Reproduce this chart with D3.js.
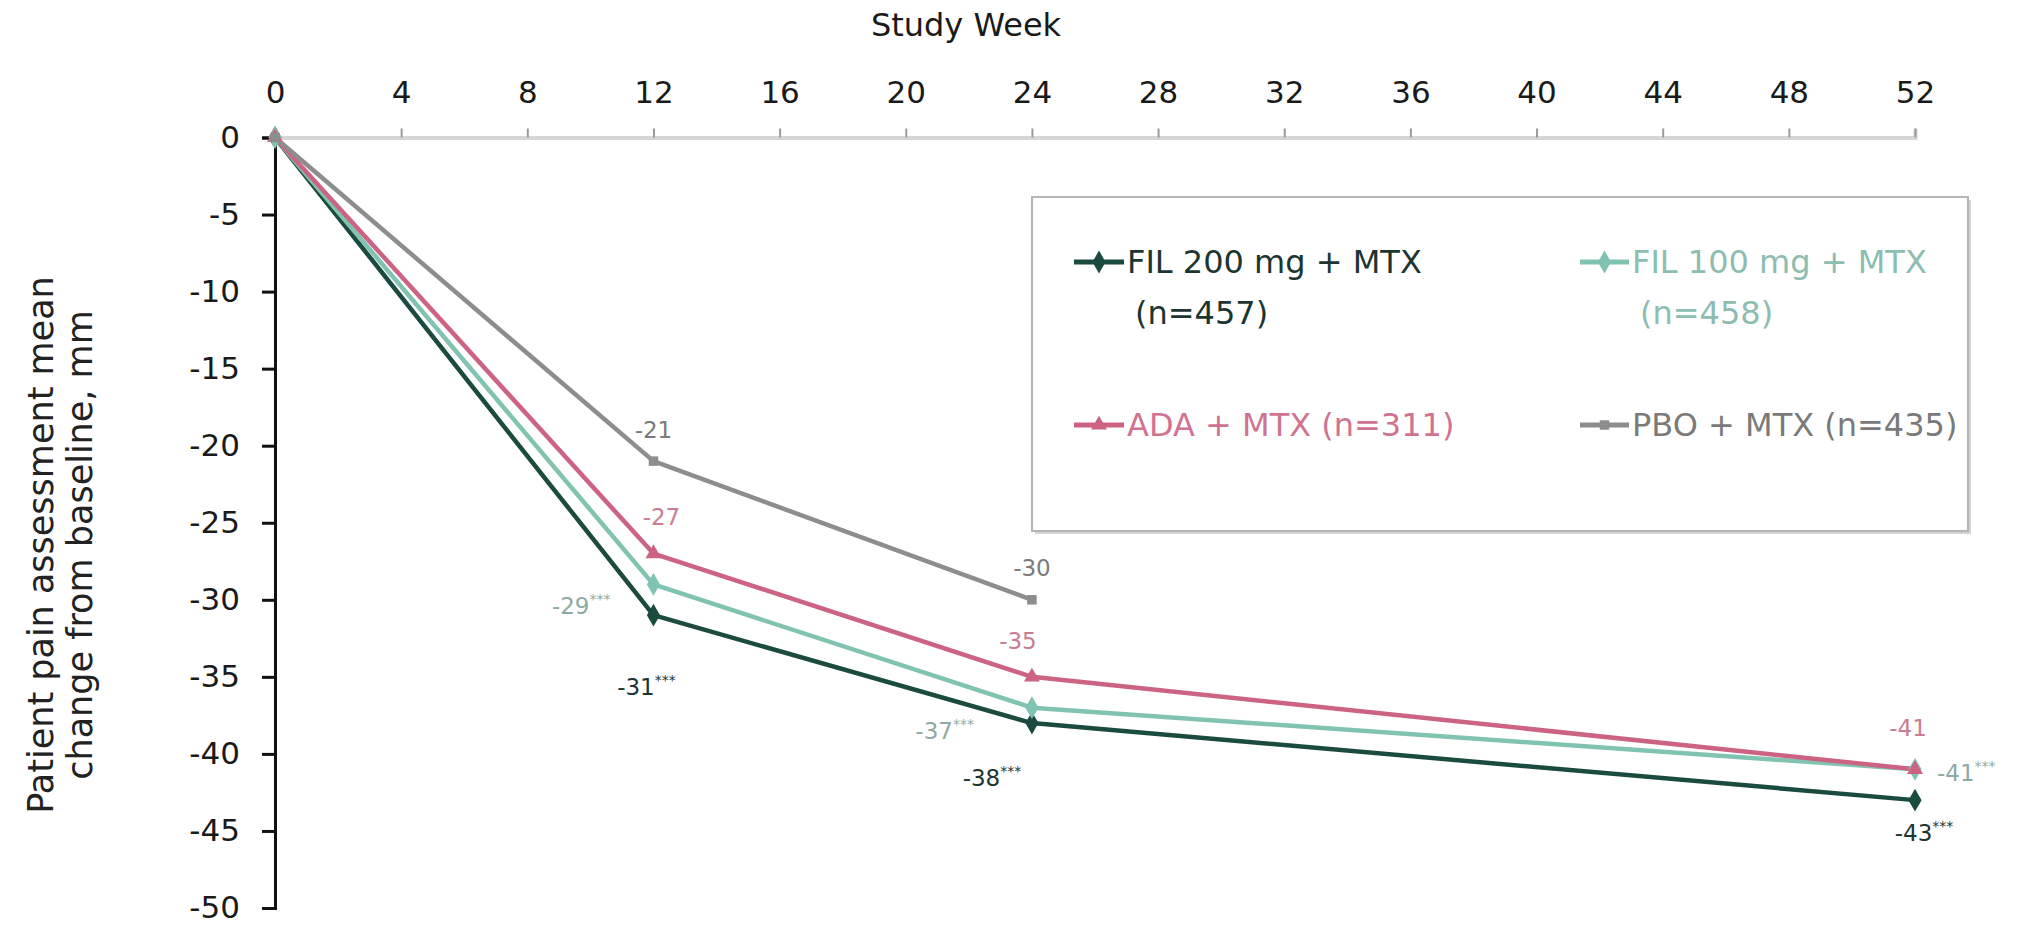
<!DOCTYPE html>
<html>
<head>
<meta charset="utf-8">
<script src="https://cdn.jsdelivr.net/npm/d3@7"></script>
<style>
  html, body { margin: 0; padding: 0; background: #fff; }
  svg { display: block; font-family: "DejaVu Sans", Verdana, sans-serif; }
</style>
</head>
<body>
<svg id="chart" width="2034" height="926"></svg>
<script>
// Study weeks at which the pain score was assessed
const weeks = [0, 12, 24, 52];

// Mean change from baseline (mm) per treatment arm
const fil200 = [0, -31, -38, -43];
const fil100 = [0, -29, -37, -41];
const ada    = [0, -27, -35, -41];
const pbo    = [0, -21, -30];

// Axis ticks
const xTicks = [0, 4, 8, 12, 16, 20, 24, 28, 32, 36, 40, 44, 48, 52];
const yTicks = [0, -5, -10, -15, -20, -25, -30, -35, -40, -45, -50];

// Arm labels shown in the legend
const armNames = ["FIL 200 mg + MTX", "FIL 100 mg + MTX", "ADA + MTX", "PBO + MTX"];
const armN     = [457, 458, 311, 435];

// Significance flags on the value labels
const armStars = ["***", "***", "", ""];

const series = [
  { key: "fil200", values: fil200, line: "#1b4a3e", text: "#1c3530", legendText: "#1c3530", symbol: d3.symbolDiamond, size: 150 },
  { key: "fil100", values: fil100, line: "#80c3b0", text: "#8eaaa4", legendText: "#8cbdb0", symbol: d3.symbolDiamond, size: 150 },
  { key: "ada",    values: ada,    line: "#cc6383", text: "#c97d92", legendText: "#cf7390", symbol: d3.symbolTriangle, size: 110 },
  { key: "pbo",    values: pbo,    line: "#8d8d8d", text: "#7a7a7a", legendText: "#7a7a7a", symbol: d3.symbolSquare, size: 90 }
].map((s, i) => ({ ...s, name: armNames[i], n: armN[i], stars: armStars[i] }));

const svg = d3.select("#chart");

const x = d3.scaleLinear().domain([0, 52]).range([275, 1915]);
const y = d3.scaleLinear().domain([0, -50]).range([137.5, 908]);

// ---- top x axis (light baseline at y = 0) ----
const xAxis = svg.append("g").attr("transform", `translate(0,${y(0)})`)
  .call(d3.axisTop(x).tickValues(xTicks).tickSize(9).tickPadding(26).tickFormat(d3.format("d")));
xAxis.select(".domain").attr("stroke", "#d6d6d6").attr("stroke-width", 4);
xAxis.selectAll(".tick line").attr("stroke", "#9a9a9a").attr("stroke-width", 2);
xAxis.selectAll(".tick text").attr("font-size", 31).attr("fill", "#1a1a1a")
  .attr("font-family", "DejaVu Sans, sans-serif");

svg.append("text")
  .attr("x", 966).attr("y", 36)
  .attr("text-anchor", "middle")
  .attr("font-size", 32).attr("fill", "#1a1a1a")
  .text("Study Week");

// ---- left y axis ----
const yAxis = svg.append("g").attr("transform", `translate(${x(0)},0)`)
  .call(d3.axisLeft(y).tickValues(yTicks).tickSize(13).tickPadding(22)
    .tickFormat(d => d === 0 ? "0" : "-" + Math.abs(d)));
yAxis.select(".domain").attr("stroke", "#111").attr("stroke-width", 3);
yAxis.selectAll(".tick line").attr("stroke", "#111").attr("stroke-width", 3);
yAxis.selectAll(".tick text").attr("font-size", 31).attr("fill", "#1a1a1a")
  .attr("font-family", "DejaVu Sans, sans-serif");

const yTitle = svg.append("text")
  .attr("transform", "translate(53,545) rotate(-90)")
  .attr("text-anchor", "middle")
  .attr("font-size", 35).attr("fill", "#222");
yTitle.append("tspan").attr("x", 0).attr("dy", 0).text("Patient pain assessment mean");
yTitle.append("tspan").attr("x", 0).attr("dy", 39).text("change from baseline, mm");

// ---- legend box ----
const lg = { x: 1032, y: 197, w: 936, h: 334 };
svg.append("rect").attr("x", lg.x + 3).attr("y", lg.y + 3).attr("width", lg.w).attr("height", lg.h)
  .attr("fill", "#d4d4d4");
svg.append("rect").attr("x", lg.x).attr("y", lg.y).attr("width", lg.w).attr("height", lg.h)
  .attr("fill", "#fff").attr("stroke", "#b4b4b4").attr("stroke-width", 2);

// ---- lines and markers ----
const line = d3.line().x((d, i) => x(weeks[i])).y(d => y(d));

series.forEach(s => {
  svg.append("path")
    .datum(s.values)
    .attr("fill", "none")
    .attr("stroke", s.line)
    .attr("stroke-width", 4.5)
    .attr("stroke-linejoin", "round")
    .attr("d", line);
});
series.forEach(s => {
  svg.append("g").selectAll("path")
    .data(s.values)
    .join("path")
    .attr("transform", (d, i) => `translate(${x(weeks[i])},${y(d)})`)
    .attr("d", d3.symbol().type(s.symbol).size(s.size))
    .attr("fill", s.line);
});

// ---- value labels: offsets from each point, per arm and visit (skip week 0) ----
const labelPlacement = {
  fil200: [null, { dx: -7, dy: 72, anchor: "middle" }, { dx: -40, dy: 55, anchor: "middle" }, { dx: 9, dy: 33, anchor: "middle" }],
  fil100: [null, { dx: -43, dy: 22, anchor: "end" }, { dx: -58, dy: 23, anchor: "end" }, { dx: 22, dy: 4, anchor: "start" }],
  ada:    [null, { dx: 8, dy: -37, anchor: "middle" }, { dx: -14, dy: -36, anchor: "middle" }, { dx: -7, dy: -41, anchor: "middle" }],
  pbo:    [null, { dx: 0, dy: -31, anchor: "middle" }, { dx: 0, dy: -32, anchor: "middle" }]
};

series.forEach(s => {
  s.values.forEach((v, i) => {
    const p = labelPlacement[s.key][i];
    if (!p) return;
    const t = svg.append("text")
      .attr("x", x(weeks[i]) + p.dx)
      .attr("y", y(v) + p.dy)
      .attr("dominant-baseline", "central")
      .attr("text-anchor", p.anchor)
      .attr("font-size", 23)
      .attr("fill", s.text);
    t.append("tspan").text(String(v).replace("\u2212", "-"));
    if (s.stars) {
      t.append("tspan").attr("font-size", 14).attr("dy", -7).text(s.stars);
    }
  });
});

// ---- legend entries ----
const legendSlots = [
  { mx: 1074, tx: 1127, y: 262 },
  { mx: 1580, tx: 1632, y: 262 },
  { mx: 1074, tx: 1127, y: 425 },
  { mx: 1580, tx: 1632, y: 425 }
];
series.forEach((s, i) => {
  const slot = legendSlots[i];
  const g = svg.append("g");
  g.append("line")
    .attr("x1", slot.mx).attr("x2", slot.tx - 3)
    .attr("y1", slot.y).attr("y2", slot.y)
    .attr("stroke", s.line).attr("stroke-width", 5);
  g.append("path")
    .attr("transform", `translate(${(slot.mx + slot.tx - 3) / 2},${slot.y})`)
    .attr("d", d3.symbol().type(s.symbol).size(s.size))
    .attr("fill", s.line);
  const txt = g.append("text")
    .attr("x", slot.tx).attr("y", slot.y)
    .attr("dominant-baseline", "central")
    .attr("font-size", 32)
    .attr("fill", s.legendText);
  if (i < 2) {
    txt.append("tspan").attr("x", slot.tx).text(s.name);
    txt.append("tspan").attr("x", slot.tx + 8).attr("dy", 51).text(`(n=${s.n})`);
  } else {
    txt.text(`${s.name} (n=${s.n})`);
  }
});
</script>
</body>
</html>
